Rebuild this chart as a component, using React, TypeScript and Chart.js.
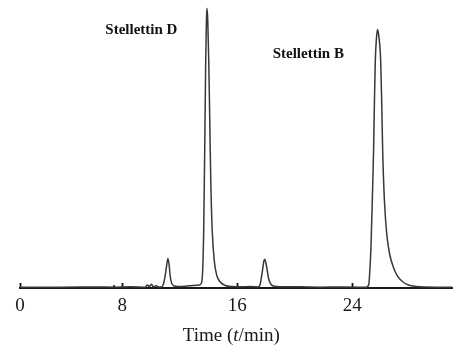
import React, { useEffect, useRef } from 'react';
import { Chart, registerables } from 'chart.js';

Chart.register(...registerables);

// Retention time (min) of each trace point
const TIME_MIN = [
  0.9, 3.69, 6.47, 7.37, 7.44, 7.51, 8.56, 9.6, 9.77, 9.88, 10.05, 10.16, 10.37, 10.5,
  10.71, 10.85, 10.99, 11.1, 11.18, 11.26, 11.34, 11.44, 11.62, 11.9,
  12.38, 12.87, 13.15,
  13.36, 13.5, 13.6, 13.67, 13.74, 13.81, 13.86, 13.9, 13.95, 14.02, 14.09, 14.16, 14.26, 14.4, 14.57, 14.82, 15.17, 15.65,
  16.21, 16.9, 17.32,
  17.46, 17.6, 17.74, 17.84, 17.9, 17.98, 18.09, 18.19, 18.33, 18.57, 18.99,
  20.38, 21.77, 23.17, 24.56,
  24.97, 25.15, 25.22, 25.29, 25.39, 25.48, 25.54, 25.6, 25.68, 25.76, 25.84, 25.97, 26.04, 26.11, 26.23, 26.4, 26.61, 26.85, 27.13, 27.48, 27.9, 28.45, 29.08,
  30.12, 30.93,
];

// Detector signal (relative units)
const SIGNAL = [
  0.3, 0.3, 0.35, 0.3, 0.9, 0.3, 0.4, 0.3, 1.1, 0.5, 1.3, 0.4, 0.8, 0.4,
  0.35, 1.06, 4.26, 8.16, 10.5, 8.5, 4.26, 1.77, 0.7, 0.53,
  0.6, 0.9, 1.0,
  1.1, 1.6, 6.4, 20.6, 48.9, 80.9, 95.0, 99.2, 95.0, 80.9, 59.6, 38.3, 20.6, 9.9, 4.6, 2.1, 0.9, 0.5,
  0.4, 0.5, 0.4,
  0.35, 1.42, 5.67, 9.22, 10.18, 9.22, 6.03, 3.19, 1.42, 0.6, 0.43,
  0.4, 0.3, 0.35, 0.3,
  0.25, 1.42, 6.38, 13.48, 31.2, 48.9, 66.7, 80.9, 88.7, 91.7, 89.4, 80.9, 66.7, 48.9, 31.2, 18.8, 11.7, 7.45, 4.26, 2.3, 1.06, 0.53, 0.35,
  0.3, 0.3,
];

const X_AXIS_START = 0.9; // axis origin, labelled "0" in the original figure
const X_AXIS_END = 30.93;
const X_TICKS = [8, 16, 24];
const PEAK_LABELS = ['Stellettin D', 'Stellettin B'];
const X_TITLE = ['Time (', 't', '/min)'];

const SERIF = '"Liberation Serif", "Times New Roman", serif';

const overlayPlugin = {
  id: 'overlay',
  afterDraw(chart: any) {
    const ctx = chart.ctx;
    ctx.save();
    ctx.fillStyle = '#111';
    ctx.font = `bold 15px ${SERIF}`;
    ctx.textAlign = 'center';
    ctx.textBaseline = 'alphabetic';
    ctx.fillText(PEAK_LABELS[0], 141.4, 34.3);
    ctx.fillText(PEAK_LABELS[1], 308.3, 57.7);

    // axis title with italic t
    ctx.fillStyle = '#1a1a1a';
    const normal = `19px ${SERIF}`;
    const italic = `italic 19px ${SERIF}`;
    ctx.textAlign = 'left';
    ctx.font = normal;
    const w0 = ctx.measureText(X_TITLE[0]).width;
    const w2 = ctx.measureText(X_TITLE[2]).width;
    ctx.font = italic;
    const w1 = ctx.measureText(X_TITLE[1]).width;
    const total = w0 + w1 + w2;
    let x = 231.3 - total / 2;
    const y = 341;
    ctx.font = normal;
    ctx.fillText(X_TITLE[0], x, y);
    x += w0;
    ctx.font = italic;
    ctx.fillText(X_TITLE[1], x, y);
    x += w1;
    ctx.font = normal;
    ctx.fillText(X_TITLE[2], x, y);
    ctx.restore();
  },
};

export default function App() {
  const ref = useRef<HTMLCanvasElement | null>(null);

  useEffect(() => {
    if (!ref.current) return;
    const points = TIME_MIN.map((t, i) => ({ x: t, y: SIGNAL[i] }));
    const chart = new Chart(ref.current, {
      type: 'line',
      data: {
        datasets: [
          {
            data: points,
            borderColor: '#383838',
            borderWidth: 1.5,
            pointRadius: 0,
            cubicInterpolationMode: 'monotone',
            fill: false,
            clip: false as any,
          },
        ],
      },
      plugins: [overlayPlugin],
      options: {
        animation: false,
        responsive: false,
        devicePixelRatio: 1,
        layout: { padding: { left: 20, right: 2, top: 6, bottom: 0 } },
        plugins: { legend: { display: false }, tooltip: { enabled: false } },
        scales: {
          x: {
            type: 'linear',
            min: X_AXIS_START,
            max: X_AXIS_END,
            afterBuildTicks: (scale: any) => {
              scale.ticks = [X_AXIS_START, ...X_TICKS].map((v) => ({ value: v }));
            },
            afterFit: (scale: any) => {
              scale.height = 61;
            },
            ticks: {
              autoSkip: false,
              maxRotation: 0,
              padding: 12,
              color: '#1a1a1a',
              font: { family: SERIF, size: 19 },
              callback: (v: any) => (v === X_AXIS_START ? '0' : String(v)),
            },
            grid: {
              drawOnChartArea: false,
              drawTicks: true,
              tickLength: -5,
              tickWidth: 1.8,
              tickColor: '#111',
            },
            border: { display: true, color: '#1a1a1a', width: 2 },
          },
          y: {
            display: false,
            min: 0,
            max: 100,
          },
        },
      },
    });
    return () => chart.destroy();
  }, []);

  return (
    <div style={{ position: 'fixed', left: 0, top: 0, width: 454, height: 349, background: '#fff' }}>
      <canvas ref={ref} width={454} height={349} style={{ display: 'block', width: 454, height: 349 }} />
    </div>
  );
}
